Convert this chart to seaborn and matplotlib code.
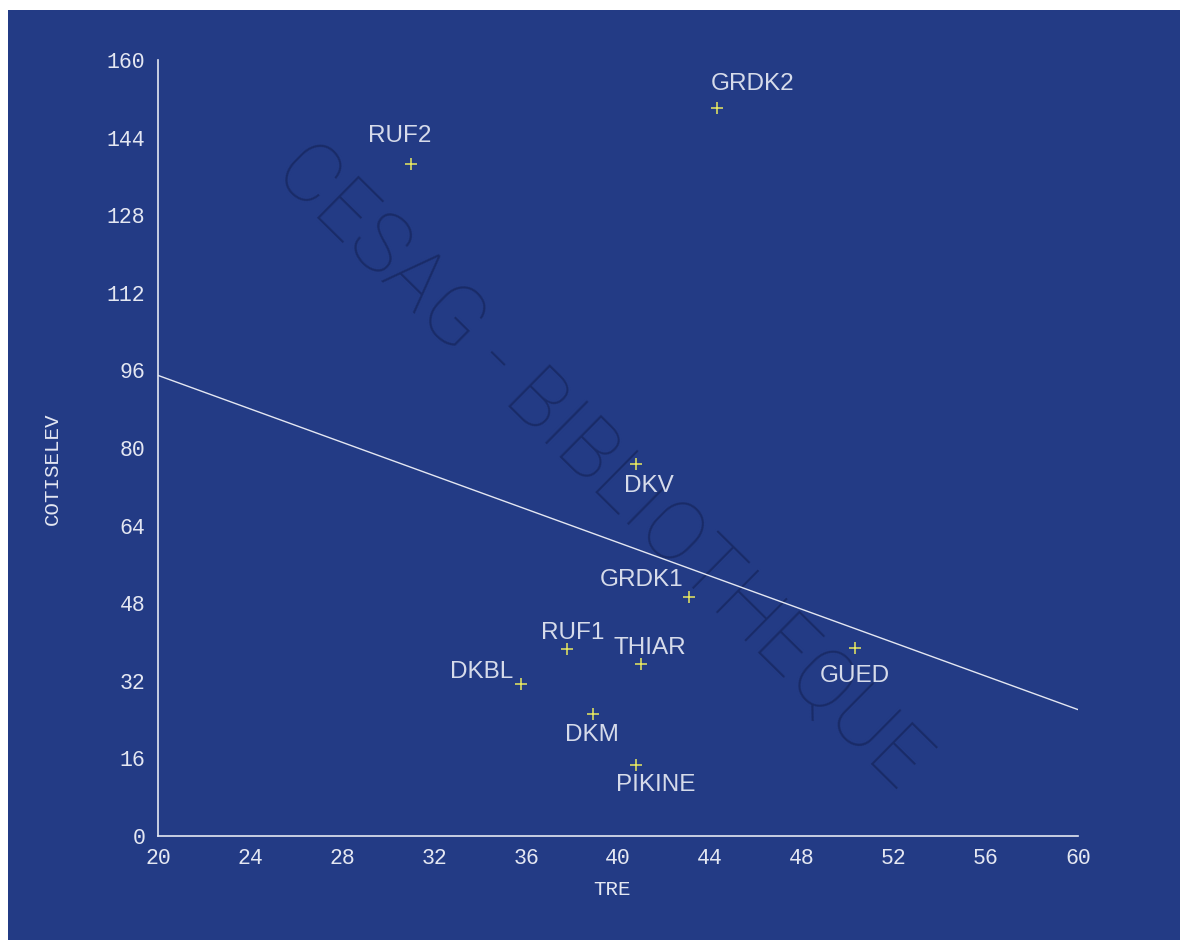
import matplotlib
matplotlib.use("Agg")
import matplotlib.pyplot as plt
import seaborn as sns
import pandas as pd
from matplotlib.patches import Rectangle

# ---- data ----
names = ["RUF2", "GRDK2", "DKV", "GRDK1", "RUF1", "THIAR", "GUED", "DKBL", "DKM", "PIKINE"]
tre = [31.0, 44.3, 40.8, 43.1, 37.8, 41.0, 50.3, 35.8, 38.9, 40.8]
cotiselev = [138.6, 150.0, 76.7, 49.3, 38.6, 35.5, 38.8, 31.3, 25.2, 14.6]
x_ticks = [20, 24, 28, 32, 36, 40, 44, 48, 52, 56, 60]
y_ticks = [0, 16, 32, 48, 64, 80, 96, 112, 128, 144, 160]

# label offsets (pixels) relative to each point
label_offsets = {
    "RUF2": (-43, 28), "GRDK2": (-6, 24), "DKV": (-12, -22), "GRDK1": (-90, 17),
    "RUF1": (-26, 16), "THIAR": (-28, 16), "GUED": (-35, -28), "DKBL": (-71, 12),
    "DKM": (-28, -21), "PIKINE": (-20, -20),
}

df = pd.DataFrame({"name": names, "TRE": tre, "COTISELEV": cotiselev})

BG = "#233b85"
FG = "#e4e7f2"
sns.set_style("white")
plt.rcParams["font.family"] = ["Liberation Sans", "DejaVu Sans"]
MONO = ["Liberation Mono", "DejaVu Sans Mono"]

fig = plt.figure(figsize=(11.85, 9.42), dpi=100, facecolor="white")
panel = Rectangle((8 / 1185, 2 / 942), (1180 - 8) / 1185, (932 - 2) / 942,
                  transform=fig.transFigure, facecolor=BG, edgecolor="none", zorder=-10)
fig.add_artist(panel)
ax = fig.add_axes([158 / 1185, (942 - 836) / 942, 920 / 1185, 776 / 942])
ax.set_zorder(1)
ax.patch.set_alpha(0)
ax.set_xlim(20, 60)
ax.set_ylim(0, 160)

sns.regplot(data=df, x="TRE", y="COTISELEV", ax=ax, ci=None, truncate=False,
            scatter=False, line_kws=dict(color=FG, lw=1.0))
sns.scatterplot(data=df, x="TRE", y="COTISELEV", ax=ax, marker="+", s=70,
                color="#e8e860", linewidth=1.1, zorder=4)

for n, x, y in zip(names, tre, cotiselev):
    dx, dy = label_offsets[n]
    ax.annotate(n, (x, y), xytext=(dx, dy), textcoords="offset pixels",
                ha="left", va="center", fontsize=17.5, color="#d6dbea",
                family=["Liberation Sans", "DejaVu Sans"])

sns.despine(ax=ax)
for s in ("left", "bottom"):
    ax.spines[s].set_color(FG)
    ax.spines[s].set_linewidth(1.2)

ax.set_xticks(x_ticks)
ax.set_yticks(y_ticks)
ax.tick_params(axis="both", colors=FG, labelcolor=FG, length=3, width=1.0,
               direction="out", labelsize=15.5, pad=6)
for lab in ax.get_xticklabels() + ax.get_yticklabels():
    lab.set_family(MONO)

ax.set_xlabel("TRE", color=FG, fontsize=15, family=MONO)
ax.set_ylabel("COTISELEV", color=FG, fontsize=15, family=MONO)
ax.xaxis.set_label_coords(0.494, -0.057)
ax.yaxis.set_label_coords(-0.104, 0.473)

# watermark
fig.text(602 / 1185, 1 - 466 / 942, "CESAG - BIBLIOTHEQUE", rotation=-44.6,
         rotation_mode="anchor", ha="center", va="center", fontsize=60,
         color="#16255c", alpha=0.7, fontweight="light",
         family=["Roboto", "Open Sans", "Liberation Sans"], zorder=0)

fig.savefig("out.png", dpi=100, facecolor="white")
